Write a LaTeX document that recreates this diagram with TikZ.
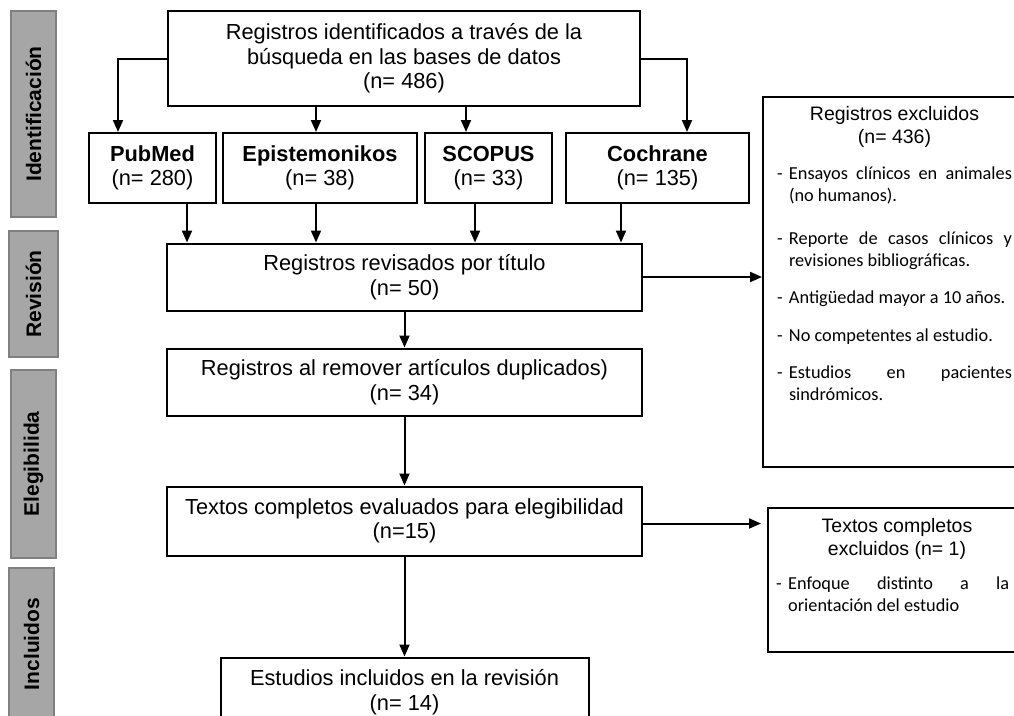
\documentclass[tikz,border=0pt]{standalone}
\usepackage{fontspec}
\setmainfont{Liberation Sans}
\newfontfamily\calfont{Carlito}
\usetikzlibrary{positioning,arrows.meta}

\definecolor{sidefill}{RGB}{166,166,166}
\definecolor{sideline}{RGB}{128,128,128}

\newcommand{\exitem}[1]{\hangindent=12pt\hangafter=1\noindent\makebox[12pt][l]{-}#1\par}

\begin{document}
\begin{tikzpicture}[
        x=1pt, y=-1pt,
        every node/.style={inner sep=0pt, font=\fontsize{21.8}{24.5}\selectfont},
        box/.style={draw, line width=2pt, align=center},
        srcbox/.style={box, minimum height=70pt},
        stepbox/.style={box, minimum width=475pt, minimum height=67pt},
        sidebox/.style={draw=sideline, fill=sidefill, line width=1.3pt, rotate=90,
            font=\bfseries\fontsize{21}{21}\selectfont},
        exbox/.style={draw, line width=2pt},
        extitle/.style={align=center, font=\fontsize{19.5}{22.5}\selectfont},
        exlist/.style={align=justify, font=\calfont\fontsize{18.3}{21.5}\selectfont,
            execute at begin node=\setlength{\parskip}{16pt}},
        arr/.style={draw, line width=2pt, -{Triangle[length=12pt,width=10pt]}},
    ]
    \useasboundingbox (0,0) rectangle (1014,715);
    \clip (0,0) rectangle (1014,715);

    \node[sidebox, minimum width=206pt, minimum height=45pt] (sid) at (33.5,114) {Identificación};
    \node[sidebox, minimum width=126pt, minimum height=49pt] (srev) at (33.5,294) {Revisión};
    \node[sidebox, minimum width=188pt, minimum height=45pt] (seleg) at (33.5,464) {Elegibilida};
    \node[sidebox, minimum width=152pt, minimum height=45pt] (sinc) at (31.5,644) {Incluidos};

    \node[box, minimum width=472pt, minimum height=95pt] (reg) at (404,58.5)
        {Registros identificados a través de la\\búsqueda en las bases de datos\\(n= 486)};
    \node[srcbox, minimum width=127pt] (pub) at (152.5,168) {\textbf{PubMed}\\(n= 280)};
    \node[srcbox, minimum width=194pt] (epi) at (320,168) {\textbf{Epistemonikos}\\(n= 38)};
    \node[srcbox, minimum width=127pt] (sco) at (488.5,168) {\textbf{SCOPUS}\\(n= 33)};
    \node[srcbox, minimum width=183pt] (coc) at (657.5,168) {\textbf{Cochrane}\\(n= 135)};

    \node[stepbox] (rev) at (404.5,277) {Registros revisados por título\\(n= 50)};
    \node[stepbox, below=36pt of rev] (dup) {Registros al remover artículos duplicados)\\(n= 34)};
    \node[stepbox, minimum height=69pt, below=69pt of dup] (ful)
        {Textos completos evaluados para elegibilidad\\(n=15)};
    \node[stepbox, minimum width=368pt, minimum height=69pt, below=100pt of ful] (inc)
        {Estudios incluidos en la revisión\\(n= 14)};

    \node[exbox, minimum width=263pt, minimum height=370pt] (exc) at (894.5,282) {};
    \node[extitle] (exct) at ([yshift=-31pt]exc.north) {Registros excluidos\\(n= 436)};
    \node[exlist, text width=235pt, anchor=north] (excl) at ([yshift=-71pt]exc.north) {%
        \exitem{Ensayos clínicos en animales\linebreak (no humanos).}
        \vspace{6pt}
        \exitem{Reporte de casos clínicos y\linebreak revisiones bibliográficas.}
        \exitem{Antigüedad mayor a 10 años.}
        \exitem{No competentes al estudio.}
        \exitem{Estudios en pacientes\linebreak sindrómicos.}};

    \node[exbox, minimum width=258pt, minimum height=144pt] (exf) at (897,580) {};
    \node[extitle] (exft) at ([yshift=-32pt]exf.north) {Textos completos\\excluidos (n= 1)};
    \node[exlist, text width=233pt, anchor=north west] (exfl) at ([xshift=9pt,yshift=-70pt]exf.north west) {%
        \exitem{Enfoque distinto a la\linebreak orientación del estudio}};

    \draw[arr] (reg.west) -| ([xshift=-34.5pt]pub.north);
    \draw[arr] (reg.east) -| ([xshift=29.5pt]coc.north);
    \draw[arr] ([xshift=-4pt]epi.north |- reg.south) -- ([xshift=-4pt]epi.north);
    \draw[arr] ([xshift=-22.5pt]sco.north |- reg.south) -- ([xshift=-22.5pt]sco.north);
    \foreach \n/\dx in {pub/34.5, epi/-4, sco/-13.5, coc/-36.5}
        \draw[arr] ([xshift=\dx pt]\n.south) -- ([xshift=\dx pt]\n.south |- rev.north);
    \draw[arr] (rev) -- (dup);
    \draw[arr] (dup) -- (ful);
    \draw[arr] (ful) -- (inc);
    \draw[arr] (rev.east) -- (rev.east -| exc.west);
    \draw[arr, shorten >=6pt] ([yshift=-2.5pt]ful.east) -- ([yshift=-2.5pt]ful.east -| exf.west);
\end{tikzpicture}
\end{document}
